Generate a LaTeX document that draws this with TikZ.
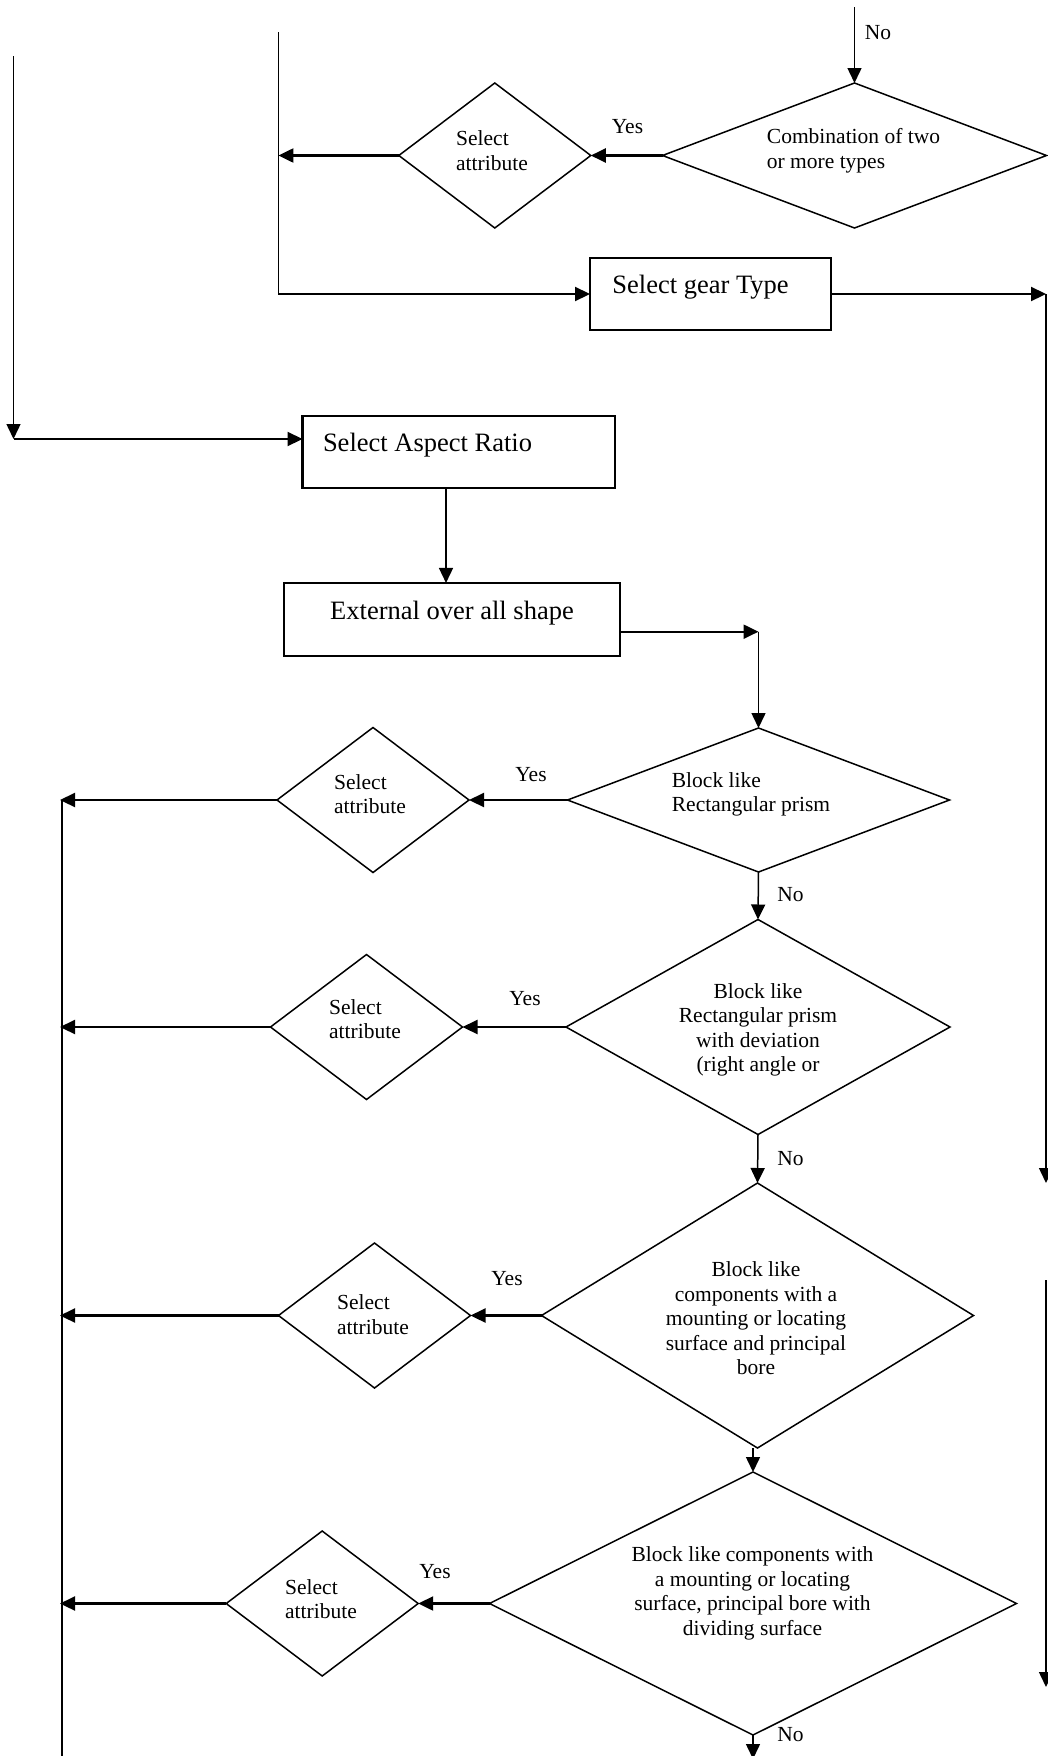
\documentclass[tikz,border=0pt]{standalone}
\usepackage{fontspec}
\setmainfont{Liberation Serif}
\usetikzlibrary{shapes.geometric,arrows.meta}
\begin{document}
\begin{tikzpicture}[x=1pt,y=-1pt,
  thinln/.style={line width=1.5pt},
  arr/.style={-{Triangle[length=15pt,width=14pt]}, line width=1.5pt},
  harr/.style={-{Triangle[length=15pt,width=14pt]}, line width=2.2pt},
  decision/.style={draw, diamond, line width=1.5pt, inner sep=0pt, outer sep=0pt},
  choice/.style={decision, minimum width=192pt, minimum height=145pt},
  stepbox/.style={draw, rectangle, line width=2.2pt, inner sep=0pt, outer sep=0pt},
  small/.style={font=\fontsize{21.5}{24.5}\selectfont, inner sep=0pt},
  big/.style={font=\fontsize{26.5}{30}\selectfont, inner sep=0pt},
]
\useasboundingbox (0,0) rectangle (1047,1756);

% decision diamonds and their attribute selections
\node[decision, minimum width=384pt, minimum height=145pt] (d0) at (854.5,155.5) {};
\node[choice] (s0) at (494.8,155.5) {};
\node[decision, minimum width=382pt, minimum height=144pt] (d1) at (758.5,800) {};
\node[choice] (s1) at (373,800) {};
\node[decision, minimum width=384pt, minimum height=215pt] (d2) at (758,1027) {};
\node[choice] (s2) at (366.5,1027) {};
\node[decision, minimum width=432pt, minimum height=265pt] (d3) at (757.5,1315.5) {};
\node[choice] (s3) at (374.5,1315.5) {};
\node[decision, minimum width=527pt, minimum height=263pt] (d4) at (753,1603.5) {};
\node[choice] (s4) at (322.2,1603.5) {};

% process boxes
\node[stepbox, minimum width=241pt, minimum height=72pt] (gear) at (710.5,294) {};
\node[stepbox, minimum width=312.5pt, minimum height=72pt] (aspect) at (458.75,451.7) {};
\node[stepbox, minimum width=336pt, minimum height=72.7pt] (ext) at (452,619.3) {};

% texts
\node[big] (gear-t) at (700.5,287) {Select gear Type};
\node[big] (aspect-t) at (427.5,445) {Select Aspect Ratio};
\node[big] (ext-t) at (452,613.5) {External over all shape};

\node[small, align=left] (d0-t) at (853.5,150.5) {Combination of two\\or more types};
\node[small, align=left] (s0-t) at (492,150.5) {Select\\attribute};
\node[small, align=left] (d1-t) at (751,794.3) {Block like\\Rectangular prism};
\node[small, align=left] (s1-t) at (370,794.3) {Select\\attribute};
\node[small, align=center] (d2-t) at (758,1030) {Block like\\Rectangular prism\\with deviation\\(right angle or};
\node[small, align=left] (s2-t) at (365,1019) {Select\\attribute};
\node[small, align=center] (d3-t) at (756,1318.3) {Block like\\components with a\\mounting or locating\\surface and principal\\bore};
\node[small, align=left] (s3-t) at (373,1314.5) {Select\\attribute};
\node[small, align=center] (d4-t) at (752.5,1593.5) {Block like components with\\a mounting or locating\\surface, principal bore with\\dividing surface};
\node[small, align=left] (s4-t) at (321,1599) {Select\\attribute};

% branch labels
\node[small] (no0) at (878,33) {No};
\node[small] (yes0) at (627.5,127) {Yes};
\node[small] (yes1) at (531,775) {Yes};
\node[small] (no1) at (790.5,895) {No};
\node[small] (yes2) at (525,999) {Yes};
\node[small] (no2) at (790.5,1159) {No};
\node[small] (yes3) at (507,1279) {Yes};
\node[small] (yes4) at (435,1572) {Yes};
\node[small] (no4) at (790.5,1735) {No};

% free ends and bends of the connectors
\coordinate (topin) at (854.5,7);
\coordinate (l2top) at (278.4,32);
\coordinate (l2bot) at (278.4,294);
\coordinate (l1top) at (13.5,56);
\coordinate (l1bot) at (13.5,439);
\coordinate (rtop) at (1046,294);
\coordinate (rmid) at (1046,1183);
\coordinate (rlow) at (1046,1280);
\coordinate (rbot) at (1046,1687);
\coordinate (l3top) at (62,800);
\coordinate (l3bot) at (62,1760);
\coordinate (l3tip) at (60,0);
\coordinate (ecorner) at (758.5,631.7);
\coordinate (axis) at (446,0);
\coordinate (exit) at (753,1759);

% connectors
\draw[arr] (topin) -- (d0.north);
\draw[harr] (d0.west) -- (s0.east);
\draw[harr] (s0.west) -- (s0.west -| l2top);
\draw[thinln] (l2top) -- (l2bot);
\draw[harr] (l2bot) -- (gear.west);
\draw[harr] (gear.east) -- (rtop);
\draw[arr] (rtop) -- (rmid);
\draw[arr] (rlow) -- (rbot);

\draw[arr] (l1top) -- (l1bot);
\draw[harr] (l1bot) -- (l1bot -| aspect.west);
\draw[arr] (axis |- aspect.south) -- (axis |- ext.north);
\draw[harr] (ext.east |- ecorner) -- (ecorner);
\draw[arr] (ecorner) -- (d1.north);

\draw[arr] (d1.south) -- (d2.north);
\draw[arr] (d2.south) -- (d3.north);
\draw[arr] (d4.north |- d3.south) -- (d4.north);
\draw[arr] (d4.south) -- (exit);

\draw[harr] (d1.west) -- (s1.east);
\draw[harr] (d2.west) -- (s2.east);
\draw[harr] (d3.west) -- (s3.east);
\draw[harr] (d4.west) -- (s4.east);

\draw[thinln] (l3top) -- (l3bot);
\draw[harr] (s1.west) -- (s1.west -| l3tip);
\draw[harr] (s2.west) -- (s2.west -| l3tip);
\draw[harr] (s3.west) -- (s3.west -| l3tip);
\draw[harr] (s4.west) -- (s4.west -| l3tip);
\end{tikzpicture}
\end{document}
